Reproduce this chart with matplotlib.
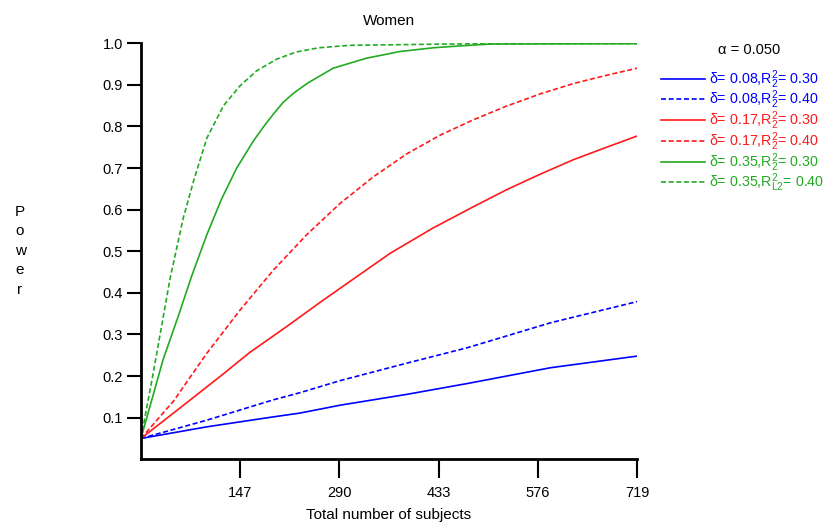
import matplotlib
matplotlib.use("Agg")
import matplotlib.pyplot as plt

plt.rcParams['font.family'] = ['Liberation Sans', 'DejaVu Sans']
plt.rcParams['mathtext.default'] = 'regular'
plt.rcParams['mathtext.fontset'] = 'custom'
plt.rcParams['mathtext.rm'] = 'Liberation Sans'

# power curves (n = total subjects)
n_blue = [4, 99, 195, 233, 291, 387, 474, 594, 719]
p_blue_30 = [0.05, 0.078, 0.102, 0.111, 0.130, 0.156, 0.182, 0.220, 0.248]
p_blue_40 = [0.05, 0.094, 0.143, 0.160, 0.189, 0.231, 0.268, 0.328, 0.379]

n_red_30 = [4, 60, 118, 161, 214, 262, 315, 363, 425, 483, 531, 579, 627, 675, 719]
p_red_30 = [0.05, 0.123, 0.199, 0.257, 0.319, 0.377, 0.439, 0.495, 0.556, 0.607, 0.648, 0.685, 0.72, 0.75, 0.777]
n_red_40 = [4, 51, 99, 147, 195, 243, 291, 339, 387, 435, 483, 531, 579, 627, 675, 719]
p_red_40 = [0.05, 0.14, 0.255, 0.359, 0.455, 0.54, 0.615, 0.679, 0.734, 0.779, 0.816, 0.849, 0.878, 0.903, 0.923, 0.94]

n_green_30 = [4, 36, 58, 77, 99, 120, 142, 166, 181, 195, 209, 224, 245, 281, 329, 377, 425, 459, 507, 719]
p_green_30 = [0.05, 0.24, 0.345, 0.44, 0.54, 0.625, 0.70, 0.765, 0.80, 0.83, 0.858, 0.88, 0.905, 0.94, 0.964, 0.98, 0.989, 0.993, 0.998, 0.999]
n_green_40 = [4, 22, 46, 65, 80, 99, 123, 147, 171, 200, 228, 260, 305, 400, 500, 719]
p_green_40 = [0.05, 0.21, 0.435, 0.58, 0.67, 0.772, 0.85, 0.898, 0.934, 0.962, 0.979, 0.989, 0.995, 0.997, 0.999, 0.999]

xticks = [147, 290, 433, 576, 719]
yticks = [0.1, 0.2, 0.3, 0.4, 0.5, 0.6, 0.7, 0.8, 0.9, 1.0]

blue = '#0000FF'
red = '#FF1A1A'
green = '#22AA22'
dash = (0, (3, 1.6))

fig = plt.figure(figsize=(8.34, 5.27), dpi=100)
ax = fig.add_axes([0.169, 0.1285, 0.595, 0.7895])

ax.plot(n_blue, p_blue_30, color=blue, lw=1.2, label=r'δ= 0.08,R$^{2}_{2}$= 0.30')
ax.plot(n_blue, p_blue_40, color=blue, lw=1.2, ls=dash, label=r'δ= 0.08,R$^{2}_{2}$= 0.40')
ax.plot(n_red_30, p_red_30, color=red, lw=1.2, label=r'δ= 0.17,R$^{2}_{2}$= 0.30')
ax.plot(n_red_40, p_red_40, color=red, lw=1.2, ls=dash, label=r'δ= 0.17,R$^{2}_{2}$= 0.40')
ax.plot(n_green_30, p_green_30, color=green, lw=1.2, label=r'δ= 0.35,R$^{2}_{2}$= 0.30')
ax.plot(n_green_40, p_green_40, color=green, lw=1.2, ls=dash, label=r'δ= 0.35,R$^{2}_{L2}$= 0.40')

ax.set_xlim(4, 719)
ax.set_ylim(0, 1.0)
ax.set_xticks(xticks)
ax.set_yticks(yticks)
ax.set_yticklabels(['%.1f' % v for v in yticks])
for s in ['top', 'right']:
    ax.spines[s].set_visible(False)
for s in ['left', 'bottom']:
    ax.spines[s].set_linewidth(2)
ax.tick_params(axis='y', length=10, width=1.5, labelsize=10.5, pad=3)
ax.tick_params(axis='x', length=14, width=1.5, labelsize=10.5, pad=5)

ax.set_xlabel('Total number of subjects', fontsize=11, labelpad=6)
ax.set_title('Women', fontsize=11, pad=13)
fig.text(0.024, 0.524, 'P\no\nw\ne\nr', fontsize=11, ha='center', va='center', linespacing=1.5)

fig.text(749 / 834, 1 - 50 / 527, 'α = 0.050', fontsize=10.5, ha='center', va='center')
leg = ax.legend(loc='upper left', bbox_to_anchor=(661 / 834, 1 - 68 / 527),
                bbox_transform=fig.transFigure, frameon=False, fontsize=10.3,
                handlelength=3.1, handletextpad=0.25, labelspacing=-0.13,
                labelcolor='linecolor', borderaxespad=0, borderpad=0)

fig.savefig('out.png', dpi=100)
